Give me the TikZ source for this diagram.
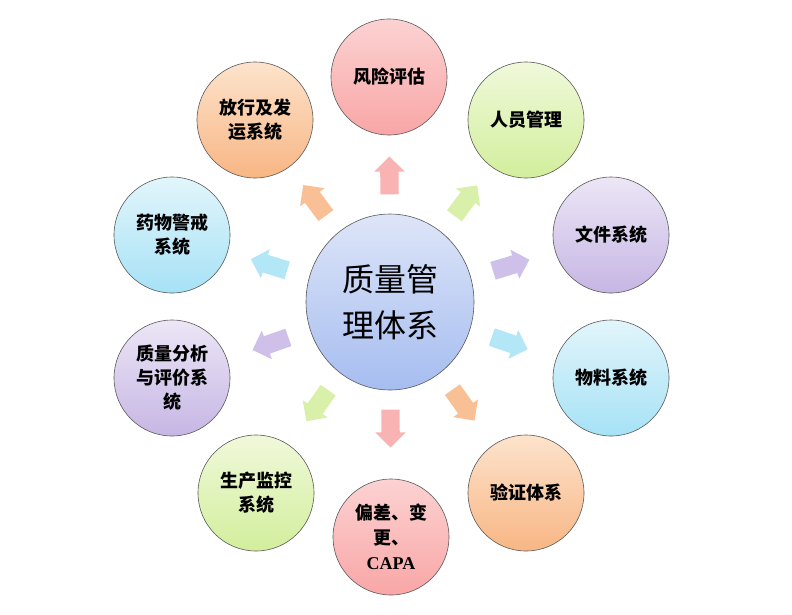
\documentclass[tikz,border=0pt]{standalone}
\usepackage{fontspec}
\setmainfont{Liberation Serif}
\newfontfamily\cjk{Noto Sans CJK SC}
\usetikzlibrary{shapes.geometric,shapes.arrows,calc}
\definecolor{pinkT}{HTML}{FCD2D2}\definecolor{pinkB}{HTML}{F9A6A6}
\definecolor{greenT}{HTML}{F0F9DA}\definecolor{greenB}{HTML}{D2EE9C}
\definecolor{lavT}{HTML}{ECE6F6}\definecolor{lavB}{HTML}{C6B6E4}
\definecolor{blueT}{HTML}{E2F5FB}\definecolor{blueB}{HTML}{A6E2F6}
\definecolor{peachT}{HTML}{FDE3CC}\definecolor{peachB}{HTML}{F8B684}
\definecolor{cenT}{HTML}{DDE5F8}\definecolor{cenB}{HTML}{A6BDF0}
\tikzset{
  outer/.style={circle, minimum size=116pt, inner sep=0pt, draw=black!65, line width=0.6pt,
    align=center, font=\cjk\bfseries\fontsize{18}{24}\selectfont},
  pinkc/.style={top color=pinkT, bottom color=pinkB},
  greenc/.style={top color=greenT, bottom color=greenB},
  lavc/.style={top color=lavT, bottom color=lavB},
  bluec/.style={top color=blueT, bottom color=blueB},
  peachc/.style={top color=peachT, bottom color=peachB},
  blockarr/.style={single arrow, draw=none, minimum height=38pt, inner xsep=0pt, inner ysep=9pt,
    single arrow head extend=6pt, single arrow head indent=0pt, sloped, allow upside down, fill=#1, fill opacity=0.85},
}
\begin{document}
\begin{tikzpicture}[x=1pt,y=-1pt]
\useasboundingbox (0,0) rectangle (792,614);
\fill[white] (0,0) rectangle (792,614);
\node[ellipse, minimum width=168pt, minimum height=176pt, inner sep=0pt, draw=black!65, line width=0.6pt,
  top color=cenT, bottom color=cenB, align=center, font=\cjk\fontsize{32}{46}\selectfont] (c) at (390,302) {质量管\\理体系};
\node[outer, pinkc]  (r1)  at (389,77)  {风险评估};
\node[outer, greenc] (r2)  at (526,120) {人员管理};
\node[outer, lavc]   (r3)  at (611,235) {文件系统};
\node[outer, bluec]  (r4)  at (611,378) {物料系统};
\node[outer, peachc] (r5)  at (526,493) {验证体系};
\node[outer, pinkc, font=\cjk\bfseries\fontsize{18}{25}\selectfont]  (r6)  at (391,537) {偏差、变\\更、\\{\rmfamily\bfseries CAPA}};
\node[outer, greenc] (r7)  at (256,493) {生产监控\\系统};
\node[outer, lavc]   (r8)  at (172,378) {质量分析\\与评价系\\统};
\node[outer, bluec]  (r9)  at (172,235) {药物警戒\\系统};
\node[outer, peachc] (r10) at (255,120) {放行及发\\运系统};
\foreach \o/\col in {r1/pinkB,r2/greenB,r3/lavB,r4/blueB,r5/peachB,r6/pinkB,r7/greenB,r8/lavB,r9/blueB,r10/peachB}{
  \path (c.center) -- ($(c.center)!122pt!(\o.center)$) node[pos=1, blockarr=\col] (a\o) {};
}
\end{tikzpicture}
\end{document}
